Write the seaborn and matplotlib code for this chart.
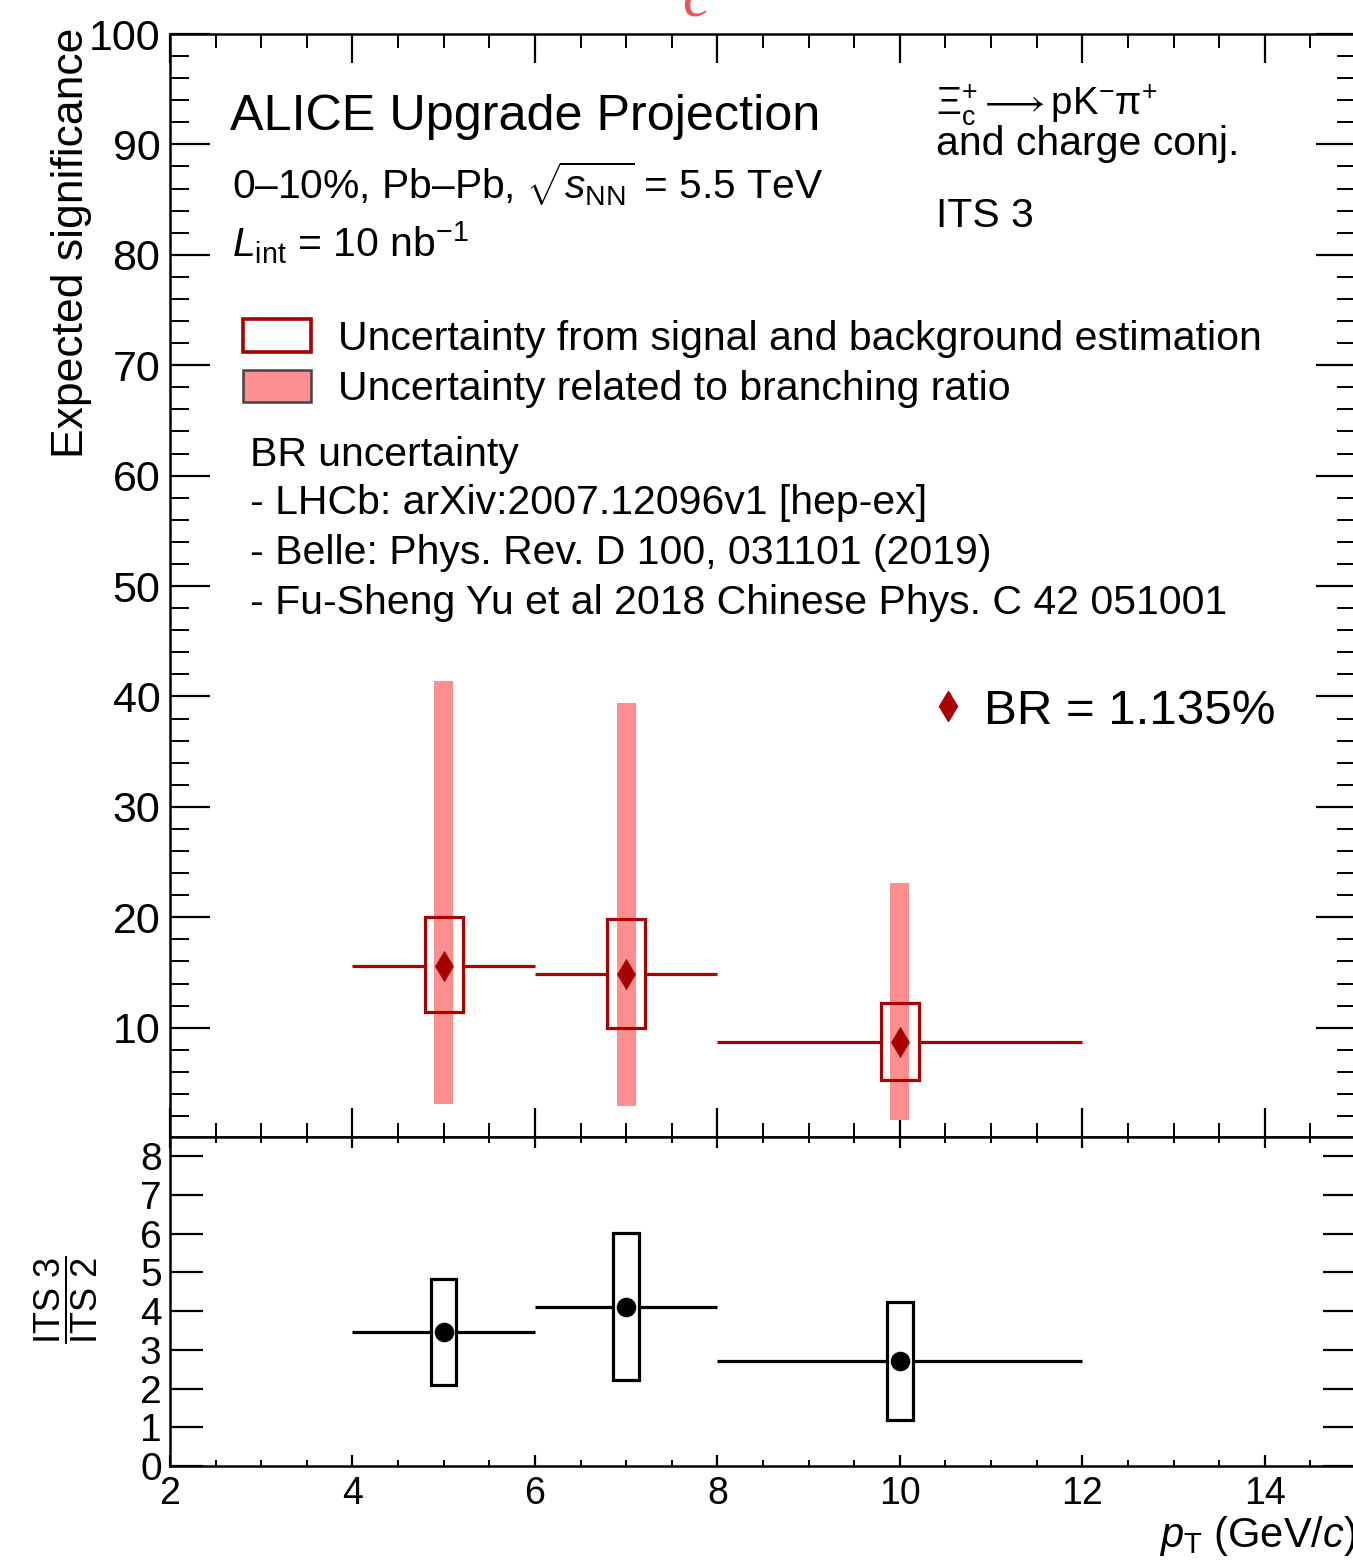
import numpy as np
import pandas as pd
import matplotlib
matplotlib.use("Agg")
import matplotlib.pyplot as plt
import seaborn as sns
from matplotlib.patches import Patch
from matplotlib.lines import Line2D
from matplotlib.ticker import MultipleLocator, FixedLocator

# ---------------- data ----------------
pt_center = [5.0, 7.0, 10.0]
pt_low = [4.0, 6.0, 8.0]
pt_high = [6.0, 8.0, 12.0]
significance = [15.6, 14.9, 8.7]
sig_unc_low = [11.4, 10.0, 5.3]
sig_unc_high = [20.0, 19.8, 12.2]
br_unc_low = [3.1, 2.9, 1.6]
br_unc_high = [41.4, 39.4, 23.1]
ratio = [3.47, 4.12, 2.72]
ratio_unc_low = [2.10, 2.23, 1.19]
ratio_unc_high = [4.84, 6.01, 4.25]

x_ticks = [2, 4, 6, 8, 10, 12, 14]
y_ticks_top = [10, 20, 30, 40, 50, 60, 70, 80, 90, 100]
y_ticks_bottom = [0, 1, 2, 3, 4, 5, 6, 7, 8]

df = pd.DataFrame({
    "pt": pt_center, "lo": pt_low, "hi": pt_high,
    "sig": significance, "sig_lo": sig_unc_low, "sig_hi": sig_unc_high,
    "br_lo": br_unc_low, "br_hi": br_unc_high,
    "ratio": ratio, "r_lo": ratio_unc_low, "r_hi": ratio_unc_high,
})

# ---------------- style ----------------
sns.set_style("ticks")
plt.rcParams["font.family"] = ["Liberation Sans", "DejaVu Sans"]
plt.rcParams["mathtext.fontset"] = "custom"
plt.rcParams["mathtext.rm"] = "Liberation Sans"
plt.rcParams["mathtext.it"] = "Liberation Sans:italic"
plt.rcParams["mathtext.bf"] = "Liberation Sans:bold"
plt.rcParams["mathtext.sf"] = "Liberation Sans"
plt.rcParams["text.color"] = "black"
plt.rcParams["xtick.color"] = "black"
plt.rcParams["ytick.color"] = "black"
plt.rcParams["xtick.labelcolor"] = "black"
plt.rcParams["ytick.labelcolor"] = "black"
plt.rcParams["axes.edgecolor"] = "black"

DARKRED = "#A80000"
PINK = "#FF8E8E"
W, H = 1353, 1561


def fx(px):
    return px / W


def fy(py):
    return 1 - py / H


fig = plt.figure(figsize=(W / 100, H / 100), dpi=100)
fig.patch.set_facecolor("white")
ax1 = fig.add_axes([fx(170), fy(1137), (1356 - 170) / W, (1137 - 34) / H])
ax2 = fig.add_axes([fx(170), fy(1466), (1356 - 170) / W, (1466 - 1137) / H])

LW = 2.3

# ---------------- top panel ----------------
ax1.hlines(df["sig"], df["lo"], df["hi"], color=DARKRED, lw=LW, zorder=1)
ax1.bar(df["pt"], df["sig_hi"] - df["sig_lo"], bottom=df["sig_lo"], width=0.42,
        color="white", edgecolor="none", zorder=2)
ax1.bar(df["pt"], df["br_hi"] - df["br_lo"], bottom=df["br_lo"], width=0.21,
        color=PINK, edgecolor="none", zorder=3)
ax1.bar(df["pt"], df["sig_hi"] - df["sig_lo"], bottom=df["sig_lo"], width=0.42,
        fill=False, edgecolor=DARKRED, lw=LW, zorder=4)
sns.scatterplot(data=df, x="pt", y="sig", marker="d", s=235, color=DARKRED,
                edgecolor=DARKRED, linewidth=0.5, ax=ax1, zorder=5, legend=False)

ax1.set_xlim(2, 15)
ax1.set_ylim(0.1, 100)
ax1.xaxis.set_major_locator(FixedLocator(x_ticks))
ax1.xaxis.set_minor_locator(MultipleLocator(0.5))
ax1.yaxis.set_major_locator(FixedLocator(y_ticks_top))
ax1.yaxis.set_minor_locator(MultipleLocator(2))
ax1.set_yticklabels([str(v) for v in y_ticks_top])
ax1.tick_params(axis="x", which="major", direction="in", length=21, width=1.6,
                top=True, bottom=True, labelbottom=False, color="black")
ax1.tick_params(axis="x", which="minor", direction="in", length=10, width=1.4,
                top=True, bottom=True, color="black")
ax1.tick_params(axis="y", which="major", direction="in", length=29, width=1.6,
                left=True, right=True, labelsize=31, pad=7, color="black",
                labelcolor="black")
ax1.tick_params(axis="y", which="minor", direction="in", length=14, width=1.4,
                left=True, right=True, color="black")
ax1.set_xlabel("")
ax1.set_ylabel("")

# ---------------- bottom panel ----------------
ax2.hlines(df["ratio"], df["lo"], df["hi"], color="black", lw=LW, zorder=1)
ax2.bar(df["pt"], df["r_hi"] - df["r_lo"], bottom=df["r_lo"], width=0.28,
        color="white", edgecolor="black", lw=LW, zorder=2)
sns.scatterplot(data=df, x="pt", y="ratio", marker="o", s=170, color="black",
                edgecolor="black", ax=ax2, zorder=5, legend=False)
ax2.set_xlim(2, 15)
ax2.set_ylim(0, 8.5)
ax2.xaxis.set_major_locator(FixedLocator(x_ticks))
ax2.xaxis.set_minor_locator(MultipleLocator(0.5))
ax2.yaxis.set_major_locator(FixedLocator(y_ticks_bottom))
ax2.set_xticklabels([str(v) for v in x_ticks])
ax2.set_yticklabels([str(v) for v in y_ticks_bottom])
ax2.tick_params(axis="x", which="major", direction="in", length=8, width=1.6,
                top=True, bottom=True, labelsize=27, pad=7, color="black",
                labelcolor="black")
ax2.tick_params(axis="x", which="minor", direction="in", length=4, width=1.4,
                top=True, bottom=True, color="black")
ax2.tick_params(axis="y", which="major", direction="in", length=24, width=1.6,
                left=True, right=True, labelsize=28, pad=6, color="black",
                labelcolor="black")
ax2.tick_params(axis="y", which="minor", left=False, right=False)
ax2.set_xlabel("")
ax2.set_ylabel("")

for ax in (ax1, ax2):
    for sp in ax.spines.values():
        sp.set_linewidth(1.8)
        sp.set_color("black")
        sp.set_visible(True)

# ---------------- texts ----------------
fig.text(fx(72), fy(28), "Expected significance", rotation=90, ha="center",
         va="top", fontsize=32)
fig.text(fx(66), fy(1300), r"$\dfrac{\mathrm{ITS\ 3}}{\mathrm{ITS\ 2}}$",
         rotation=90, ha="center", va="center", fontsize=26)
fig.text(fx(1356), fy(1547), r"$p_{\mathrm{T}}$ (GeV/$c$)", ha="right",
         va="baseline", fontsize=30)

fig.text(fx(230), fy(130), "ALICE Upgrade Projection", fontsize=36.3, va="baseline")
fig.text(fx(232), fy(199), r"0–10%, Pb–Pb, $\sqrt{s_{\mathrm{NN}}}$ = 5.5 TeV",
         fontsize=29.3, va="baseline")
fig.text(fx(232), fy(257), r"$L_{\mathrm{int}}$ = 10 nb$^{-1}$", fontsize=29.5,
         va="baseline")
fig.text(fx(936), fy(115),
         r"$\Xi_{\mathrm{c}}^{+}\longrightarrow\mathrm{pK}^{-}\mathrm{\pi}^{+}$",
         fontsize=27.5, va="baseline")
fig.text(fx(936), fy(155), "and charge conj.", fontsize=29.5, va="baseline")
fig.text(fx(936), fy(227), "ITS 3", fontsize=29.5, va="baseline")

fig.text(fx(250), fy(466), "BR uncertainty", fontsize=29.5, va="baseline")
fig.text(fx(250), fy(514), "- LHCb: arXiv:2007.12096v1 [hep-ex]", fontsize=29.5, va="baseline")
fig.text(fx(250), fy(564), "- Belle: Phys. Rev. D 100, 031101 (2019)", fontsize=29.5, va="baseline")
fig.text(fx(250), fy(614), "- Fu-Sheng Yu et al 2018 Chinese Phys. C 42 051001",
         fontsize=29.5, va="baseline")

# cut-off glyph at the top edge
fig.text(fx(682), fy(16), "c", fontsize=45, family="Liberation Serif",
         style="italic", color="#EE5555", va="baseline")

# ---------------- legends ----------------
handles = [Patch(facecolor="white", edgecolor=DARKRED, lw=2.6),
           Patch(facecolor=PINK, edgecolor="#444444", lw=1.8)]
labels = ["Uncertainty from signal and background estimation",
          "Uncertainty related to branching ratio"]
leg1 = ax1.legend(handles, labels, loc="upper left",
                  bbox_to_anchor=(fx(243), fy(319)), bbox_transform=fig.transFigure,
                  frameon=False, fontsize=29.5, borderpad=0, borderaxespad=0,
                  handlelength=1.66, handleheight=0.85, handletextpad=0.66,
                  labelspacing=0.3)
ax1.add_artist(leg1)

br_handle = Line2D([], [], marker="d", color=DARKRED, linestyle="none",
                   markersize=15.3)
ax1.legend([br_handle], ["BR = 1.135%"], loc="center left",
           bbox_to_anchor=(fx(925), fy(711)), bbox_transform=fig.transFigure,
           frameon=False, fontsize=35.5, borderpad=0, borderaxespad=0,
           handlelength=0.95, handletextpad=0.25)

fig.savefig("out.png", dpi=100, facecolor="white")
